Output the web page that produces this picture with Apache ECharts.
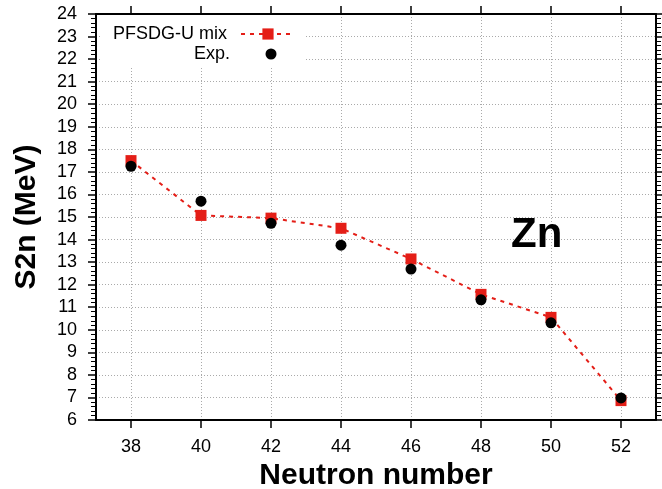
<!DOCTYPE html>
<html>
<head>
<meta charset="utf-8">
<script src="https://cdn.jsdelivr.net/npm/echarts@6/dist/echarts.min.js"></script>
<style>
html,body{margin:0;padding:0;background:#fff;}
#chart{width:662px;height:489px;}
</style>
</head>
<body>
<div id="chart"></div>
<script>
var neutronNumbers = [38, 40, 42, 44, 46, 48, 50, 52];
var pfsdgValues = [17.50, 15.07, 14.95, 14.50, 13.14, 11.57, 10.55, 6.86];
var expValues = [17.25, 15.70, 14.72, 13.75, 12.69, 11.33, 10.31, 6.98];
var xTickValues = [38, 40, 42, 44, 46, 48, 50, 52];
var seriesNames = ['PFSDG-U mix', 'Exp.'];
var xTitle = 'Neutron number';
var yTitle = 'S2n (MeV)';
var elementLabel = 'Zn';

var FONT = 'Liberation Sans, Arial, Helvetica, sans-serif';
var RED = '#e41e17';

function pairs(xs, ys) { return xs.map(function (x, i) { return [x, ys[i]]; }); }

var chart = echarts.init(document.getElementById('chart'), null, {renderer: 'canvas'});

var axisLineStyle = {color: '#000', width: 2};
var gridLine = {show: true, lineStyle: {color: '#aaaaaa', width: 1, type: [1, 2]}};

var option = {
  backgroundColor: '#fff',
  animation: false,
  grid: {left: 96, right: 6, top: 14, bottom: 69, containLabel: false, outerBoundsMode: 'none'},
  xAxis: [
    {
      type: 'value', position: 'bottom', min: 37, max: 53,
      axisLine: {show: true, onZero: false, lineStyle: axisLineStyle},
      axisTick: {show: true, length: 8, lineStyle: {color: '#000', width: 1.5}, customValues: xTickValues},
      axisLabel: {show: true, fontSize: 18, color: '#000', fontFamily: FONT, margin: 18, customValues: xTickValues},
      splitLine: gridLine,
      name: xTitle, nameLocation: 'middle', nameGap: 38,
      nameTextStyle: {fontSize: 30, fontWeight: 'bold', color: '#000', fontFamily: FONT}
    },
    {
      type: 'value', position: 'top', min: 37, max: 53,
      axisLine: {show: true, onZero: false, lineStyle: axisLineStyle},
      axisTick: {show: true, length: 8, lineStyle: {color: '#000', width: 1.5}, customValues: xTickValues},
      axisLabel: {show: false},
      splitLine: {show: false}
    }
  ],
  yAxis: [
    {
      type: 'value', position: 'left', min: 6, max: 24, interval: 1,
      axisLine: {show: true, onZero: false, lineStyle: axisLineStyle},
      axisTick: {show: true, length: 8, lineStyle: {color: '#000', width: 1.5}},
      minorTick: {show: true, splitNumber: 5, length: 5, lineStyle: {color: '#000', width: 1}},
      axisLabel: {show: true, fontSize: 18, color: '#000', fontFamily: FONT, margin: 19},
      splitLine: gridLine,
      name: yTitle, nameLocation: 'middle', nameGap: 54,
      nameTextStyle: {fontSize: 30, fontWeight: 'bold', color: '#000', fontFamily: FONT}
    },
    {
      type: 'value', position: 'right', min: 6, max: 24, interval: 1,
      axisLine: {show: true, onZero: false, lineStyle: axisLineStyle},
      axisTick: {show: true, length: 8, lineStyle: {color: '#000', width: 1.5}},
      minorTick: {show: true, splitNumber: 5, length: 5, lineStyle: {color: '#000', width: 1}},
      axisLabel: {show: false},
      splitLine: {show: false}
    }
  ],
  legend: [
    {
      data: [seriesNames[0]], orient: 'vertical', align: 'right',
      left: 100, top: 15, padding: [10, 10, 23, 13],
      backgroundColor: '#fff', z: 4,
      itemWidth: 54, itemHeight: 14,
      textStyle: {fontSize: 18, color: '#000', fontFamily: FONT, padding: [0, 9, 0, 0]}
    },
    {
      data: [seriesNames[1]], orient: 'vertical', align: 'right',
      left: 194, top: 45, padding: 0, z: 5,
      itemWidth: 54, itemHeight: 11,
      textStyle: {fontSize: 18, color: '#000', fontFamily: FONT, padding: [0, 9, 0, 0]}
    }
  ],
  graphic: [
    {type: 'text', left: 511, top: 214, z: 10,
     style: {text: elementLabel, font: 'bold 42px ' + FONT, fill: '#000'}}
  ],
  series: [
    {
      name: seriesNames[0], type: 'line', xAxisIndex: 0, yAxisIndex: 0,
      data: pairs(neutronNumbers, pfsdgValues),
      symbol: 'rect', symbolSize: 11,
      itemStyle: {color: RED, opacity: 1},
      lineStyle: {color: RED, width: 2, type: [4, 5]},
      z: 3
    },
    {
      name: seriesNames[1], type: 'scatter', xAxisIndex: 0, yAxisIndex: 0,
      data: pairs(neutronNumbers, expValues),
      symbol: 'circle', symbolSize: 11,
      itemStyle: {color: '#000', opacity: 1},
      z: 4
    }
  ]
};
chart.setOption(option);
</script>
</body>
</html>
